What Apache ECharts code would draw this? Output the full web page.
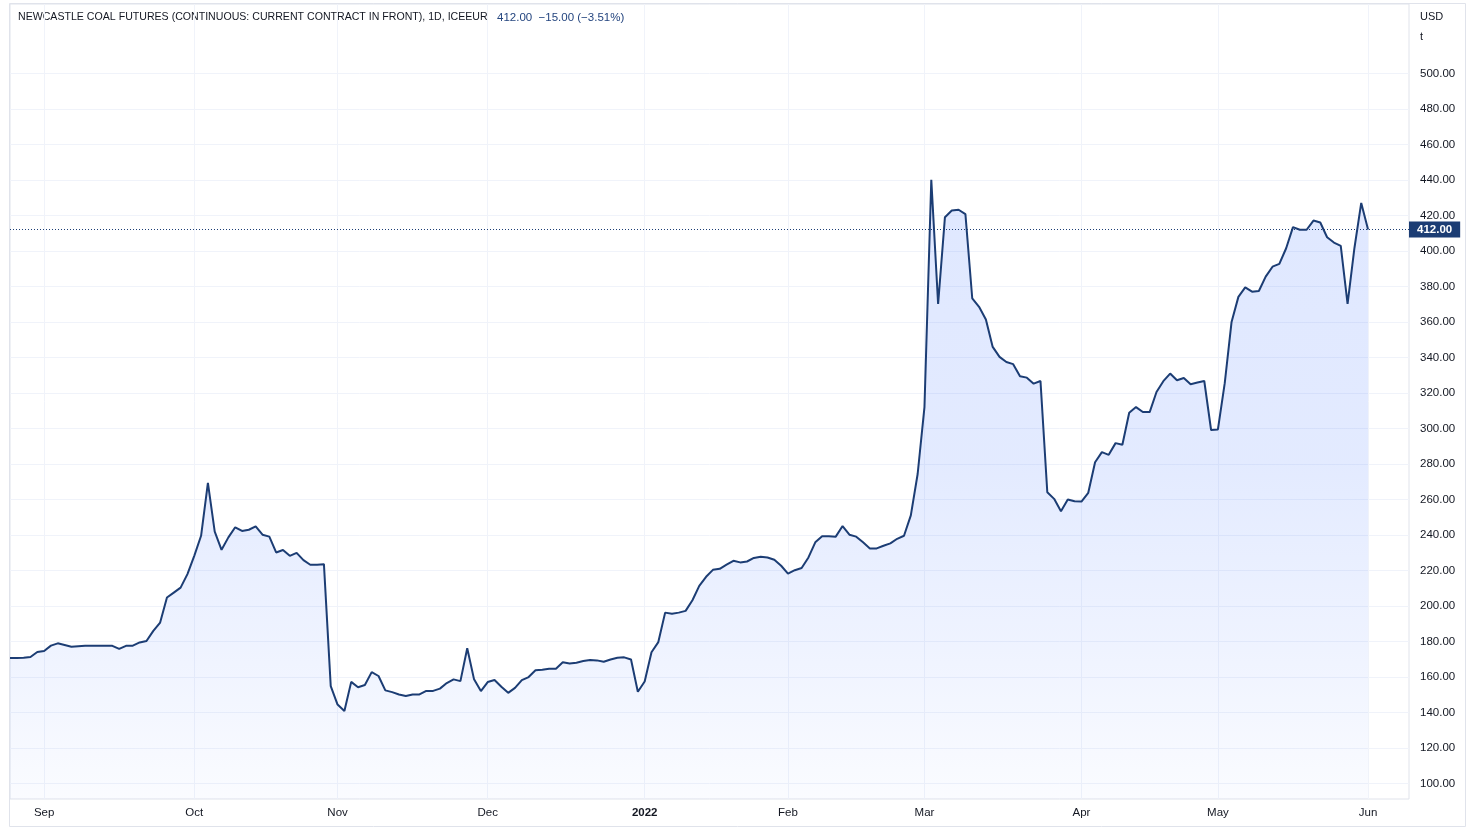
<!DOCTYPE html>
<html><head><meta charset="utf-8">
<script src="https://cdn.jsdelivr.net/npm/echarts@6/dist/echarts.min.js"></script>
<style>html,body{margin:0;padding:0;background:#fff}#c{width:1476px;height:831px}</style>
</head><body><div id="c"></div>
<script>
// ---------- data ----------
const chartTitle = 'NEWCASTLE COAL FUTURES (CONTINUOUS: CURRENT CONTRACT IN FRONT), 1D, ICEEUR';
const unitTop = 'USD';
const unitBottom = 't';
const firstDay = '2021-08-25';
const lastDay = '2022-06-09';
const holidays = ['2022-04-15'];
const monthNames = ['Jan','Feb','Mar','Apr','May','Jun','Jul','Aug','Sep','Oct','Nov','Dec'];
const yTicks = [100,120,140,160,180,200,220,240,260,280,300,320,340,360,380,400,420,440,460,480,500];

const aug21 = [170.6, 170.6, 170.8, 171.2, 174.0];
const sep21 = [174.6, 177.6, 178.9, 178.0, 177.0, 177.3, 177.5, 177.6, 177.5, 177.5, 177.5, 175.8, 177.5, 177.6, 179.4, 180.2, 185.9, 190.6, 204.7, 207.5, 210.3, 217.9];
const oct21 = [228.2, 239.5, 269.3, 241.8, 231.6, 238.6, 244.3, 242.2, 242.9, 244.8, 240.1, 239.0, 230.1, 231.5, 228.2, 229.9, 225.8, 223.2, 223.2, 223.5, 154.8];
const nov21 = [144.4, 140.8, 157.2, 154.2, 155.4, 162.7, 160.5, 152.4, 151.4, 150.1, 149.2, 150.1, 150.1, 152.1, 152.1, 153.4, 156.5, 158.6, 157.6, 176.1, 158.6, 152.0];
const dec21 = [157.1, 158.2, 154.4, 151.0, 153.8, 158.2, 159.9, 163.7, 164.0, 164.6, 164.6, 168.2, 167.6, 168.0, 168.9, 169.5, 169.3, 168.5, 169.8, 170.8, 171.0, 169.8, 151.6];
const jan22 = [157.4, 173.9, 179.6, 196.2, 195.6, 196.2, 197.2, 203.2, 211.3, 216.4, 220.3, 220.9, 223.2, 225.4, 224.5, 225.0, 227.0, 227.7, 227.3, 226.0, 222.6];
const feb22 = [218.2, 220.1, 221.3, 227.3, 235.8, 239.2, 239.2, 239.0, 245.0, 240.1, 239.0, 235.8, 232.4, 232.4, 233.9, 235.2, 237.8, 239.5, 251.0, 274.3];
const mar22 = [312.0, 440.1, 370.1, 419.0, 422.8, 423.2, 420.7, 373.3, 368.5, 361.4, 345.9, 340.3, 337.4, 336.2, 329.4, 328.6, 325.2, 326.7, 264.0, 260.3, 253.3, 259.9, 258.9];
const apr22 = [258.8, 263.7, 280.9, 286.6, 285.1, 291.7, 290.8, 308.8, 312.0, 309.2, 309.2, 320.5, 326.6, 330.9, 327.1, 328.4, 324.9, 325.8, 326.7, 299.1];
const may22 = [299.4, 325.5, 360.0, 374.1, 379.4, 377.0, 377.4, 385.5, 391.1, 392.7, 401.5, 413.4, 411.9, 411.9, 417.1, 416.0, 407.7, 404.7, 402.8, 370.1, 401.5, 427.0];
const jun22 = [412.0];

// ---------- build ----------
const values = [].concat(aug21, sep21, oct21, nov21, dec21, jan22, feb22, mar22, apr22, may22, jun22);

function tradingDays(start, end, skip) {
  const out = [];
  const d = new Date(start + 'T00:00:00Z');
  const e = new Date(end + 'T00:00:00Z');
  while (d <= e) {
    const wd = d.getUTCDay();
    const s = d.toISOString().slice(0, 10);
    if (wd !== 0 && wd !== 6 && skip.indexOf(s) < 0) out.push(s);
    d.setUTCDate(d.getUTCDate() + 1);
  }
  return out;
}
const dates = tradingDays(firstDay, lastDay, holidays);
function isMonthStart(i) {
  return i > 0 && dates[i].slice(0, 7) !== dates[i - 1].slice(0, 7);
}

const last = values[values.length - 1];
const prev = values[values.length - 2];
const chg = last - prev;
const pct = chg / prev * 100;
const fmtSigned = v => (v < 0 ? '\u2212' : '+') + Math.abs(v).toFixed(2);
const headerValues = last.toFixed(2) + '  ' + fmtSigned(chg) + ' (' + fmtSigned(pct) + '%)';

const FONT = '"Liberation Sans", Arial, sans-serif';
const NAVY = '#1c3d74';
const GRID = '#f0f3fa';
const BORDER = '#e0e3eb';
const TEXT = '#131722';

const chart = echarts.init(document.getElementById('c'));
chart.setOption({
  animation: false,
  backgroundColor: '#ffffff',
  textStyle: { fontFamily: FONT },
  grid: { left: 10, right: 67, top: 4, bottom: 32, show: true, borderColor: BORDER, borderWidth: 1 },
  xAxis: {
    type: 'category',
    data: dates,
    boundaryGap: false,
    axisLine: { show: false },
    axisTick: { show: false },
    axisLabel: {
      interval: (i) => isMonthStart(i),
      formatter: (v) => {
        const m = +v.slice(5, 7);
        return m === 1 ? '{y|' + v.slice(0, 4) + '}' : monthNames[m - 1];
      },
      rich: { y: { fontWeight: 'bold', fontSize: 11.5, color: TEXT, fontFamily: FONT } },
      color: TEXT, fontSize: 11.5, fontFamily: FONT, margin: 8
    },
    splitLine: { show: true, interval: (i) => isMonthStart(i), lineStyle: { color: GRID, width: 1 } }
  },
  yAxis: {
    type: 'value',
    position: 'right',
    min: 91.2,
    max: 539.1,
    axisLine: { show: false },
    axisTick: { show: false, customValues: yTicks },
    axisLabel: {
      customValues: yTicks,
      formatter: (v) => v.toFixed(2),
      color: TEXT, fontSize: 11.5, fontFamily: FONT, margin: 11, align: 'left'
    },
    splitLine: { show: true, lineStyle: { color: GRID, width: 1 } }
  },
  series: [{
    type: 'line',
    data: values,
    symbol: 'none',
    lineStyle: { color: NAVY, width: 2 },
    itemStyle: { color: NAVY },
    areaStyle: {
      origin: 'start',
      color: new echarts.graphic.LinearGradient(0, 0, 0, 1, [
        { offset: 0, color: 'rgba(41,98,255,0.21)' },
        { offset: 0.45, color: 'rgba(41,98,255,0.19)' },
        { offset: 0.75, color: 'rgba(41,98,255,0.11)' },
        { offset: 1, color: 'rgba(41,98,255,0.03)' }
      ])
    },
    markLine: {
      silent: true,
      symbol: ['none', 'none'],
      animation: false,
      lineStyle: { color: NAVY, type: [1, 2], width: 1 },
      label: {
        show: true, position: 'end', distance: 0,
        formatter: (p) => Number(p.value).toFixed(2),
        backgroundColor: NAVY, color: '#ffffff', fontWeight: 'bold',
        fontSize: 11.5, fontFamily: FONT, lineHeight: 14, padding: [1, 8, 1, 8]
      },
      data: [{ yAxis: last }]
    }
  }],
  graphic: [
    { type: 'rect', silent: true, z: -1, shape: { x: 9.5, y: 3.5, width: 1456, height: 823 },
      style: { fill: 'none', stroke: BORDER, lineWidth: 1 } },
    { type: 'text', left: 18, top: 12, silent: true,
      style: { text: chartTitle, fill: TEXT, font: '10.6px ' + FONT } },
    { type: 'text', left: 497, top: 12, silent: true,
      style: { text: headerValues, fill: '#24457f', font: '11.5px ' + FONT } },
    { type: 'text', left: 1420, top: 11, silent: true,
      style: { text: unitTop, fill: TEXT, font: '11px ' + FONT } },
    { type: 'text', left: 1420, top: 31, silent: true,
      style: { text: unitBottom, fill: TEXT, font: '11px ' + FONT } }
  ]
});
</script></body></html>
